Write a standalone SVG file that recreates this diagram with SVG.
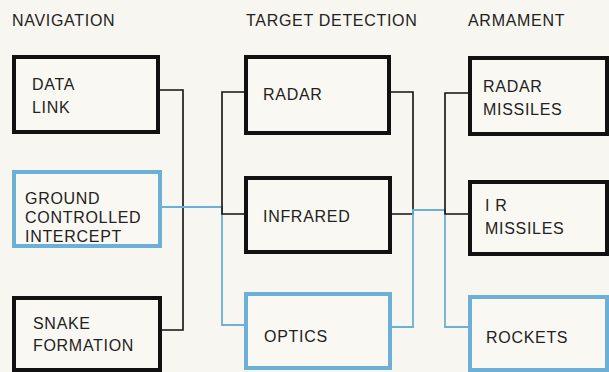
<svg xmlns="http://www.w3.org/2000/svg" width="609" height="372" viewBox="0 0 609 372">
<style>
text{font-family:"Liberation Sans",Arial,sans-serif;font-size:16px;letter-spacing:0.7px;fill:#222}
.bk{fill:#faf8f2;stroke:#111;stroke-width:4}
.bl{fill:#faf8f2;stroke:#6cb0d8;stroke-width:4}
.ck{fill:none;stroke:#111;stroke-width:1.6}
.cb{fill:none;stroke:#6cb0d8;stroke-width:1.8}
</style>
<rect width="609" height="372" fill="#f8f6f0"/>
<g id="headers">
<text x="12" y="26">NAVIGATION</text>
<text x="246" y="26">TARGET DETECTION</text>
<text x="468" y="26">ARMAMENT</text>
</g>
<g id="connectors">
<path class="ck" d="M158 90H183V330H160"/>
<path class="cb" d="M160 207H222V325H246"/>
<path class="ck" d="M246 92H222V214H246"/>
<path class="ck" d="M389 92H413V214H390"/>
<path class="cb" d="M390 327H413V210H445V327H470"/>
<path class="ck" d="M470 93H445V214H470"/>
</g>
<g id="data-link"><rect class="bk" x="14" y="57" width="144" height="75"/><text x="32" y="90">DATA</text><text x="32" y="113">LINK</text></g>
<g id="gci"><rect class="bl" x="14" y="172" width="146" height="74"/><text x="25" y="204">GROUND</text><text x="25" y="223">CONTROLLED</text><text x="25" y="242">INTERCEPT</text></g>
<g id="snake"><rect class="bk" x="14" y="298" width="146" height="72"/><text x="33" y="329">SNAKE</text><text x="33" y="351">FORMATION</text></g>
<g id="radar"><rect class="bk" x="246" y="57" width="143" height="76"/><text x="263" y="100">RADAR</text></g>
<g id="infrared"><rect class="bk" x="246" y="178" width="144" height="74"/><text x="263" y="222">INFRARED</text></g>
<g id="optics"><rect class="bl" x="246" y="294" width="144" height="74"/><text x="264" y="342">OPTICS</text></g>
<g id="radar-missiles"><rect class="bk" x="470" y="58" width="137" height="76"/><text x="483" y="92">RADAR</text><text x="483" y="115">MISSILES</text></g>
<g id="ir-missiles"><rect class="bk" x="470" y="182" width="137" height="72"/><text x="485" y="211">I R</text><text x="485" y="234">MISSILES</text></g>
<g id="rockets"><rect class="bl" x="470" y="297" width="137" height="73"/><text x="486" y="343">ROCKETS</text></g>
</svg>
